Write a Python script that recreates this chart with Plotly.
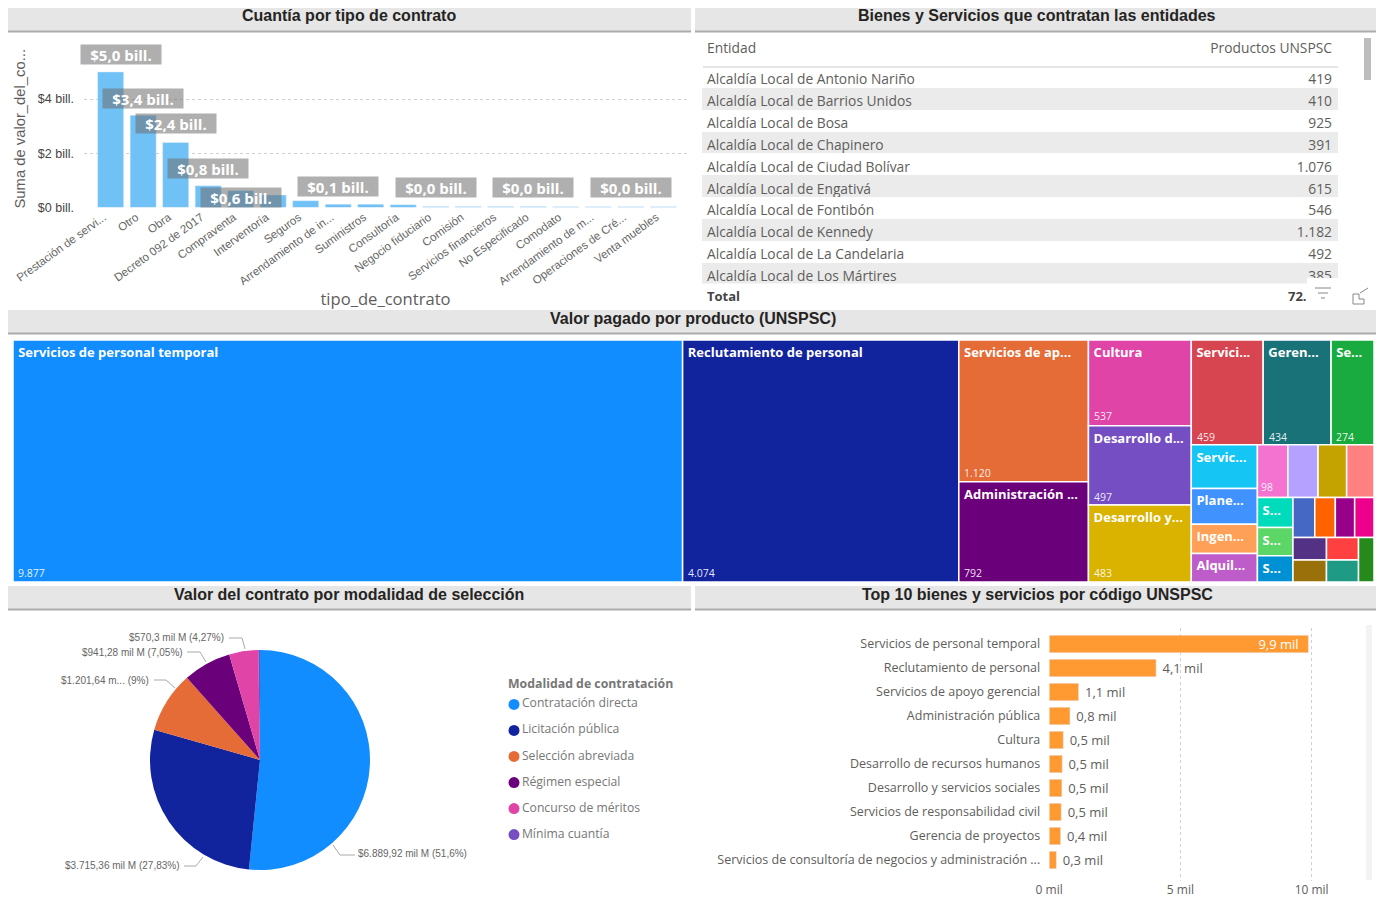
import plotly.graph_objects as go

W, H = 1377, 897
FONT = "Open Sans"
HEAD = "Liberation Sans"
GREY = "#605E5C"

# ---------- data ----------
contract_types = ["Prestación de servi...", "Otro", "Obra", "Decreto 092 de 2017", "Compraventa",
                  "Interventoría", "Seguros", "Arrendamiento de in...", "Suministros", "Consultoría",
                  "Negocio fiduciario", "Comisión", "Servicios financieros", "No Especificado",
                  "Comodato", "Arrendamiento de m...", "Operaciones de Cré...", "Venta muebles"]
contract_values = [5.0, 3.4, 2.4, 0.8, 0.62, 0.46, 0.25, 0.12, 0.12, 0.1,
                   0.04, 0.04, 0.04, 0.04, 0.03, 0.03, 0.03, 0.03]
labelled_contracts = [0, 1, 2, 3, 4, 7, 10, 13, 16]
label_yshift = [17, 17, 19, 17, -7, 18, 19, 19, 19]
label_xshift = [10, 0, 0, 0, 0, 0, 0, 0, 0]

entities = ["Alcaldía Local de Antonio Nariño", "Alcaldía Local de Barrios Unidos", "Alcaldía Local de Bosa",
            "Alcaldía Local de Chapinero", "Alcaldía Local de Ciudad Bolívar", "Alcaldía Local de Engativá",
            "Alcaldía Local de Fontibón", "Alcaldía Local de Kennedy", "Alcaldía Local de La Candelaria",
            "Alcaldía Local de Los Mártires"]
entity_products = ["419", "410", "925", "391", "1.076", "615", "546", "1.182", "492", "385"]

BLANK = "\u00a0"
tree_ids = ["a%02d" % i for i in range(30)]
tree_labels = ["Servicios de personal temporal", "Reclutamiento de personal", "Servicios de ap...",
               "Administración ...", "Cultura", "Desarrollo d...", "Desarrollo y...", "Servici...",
               "Geren...", "Se...", "Servic...", "Plane...", "Ingen...", "Alquil...",
               BLANK, BLANK, BLANK, BLANK, "S...", "S...", "S...", BLANK, BLANK, BLANK, BLANK, BLANK,
               BLANK, BLANK, BLANK, BLANK]
tree_values = [9877, 4074, 1120, 792, 537, 497, 483, 459, 434, 274, 176, 144, 118, 115,
               98, 97, 92, 88, 65, 61, 57, 53, 50, 47, 47, 46, 45, 44, 43, 42]
tree_colors = ["#118DFF", "#12239E", "#E66C37", "#6B007B", "#E044A7", "#744EC2", "#D9B300", "#D64550",
               "#197278", "#1AAB40", "#15C6F4", "#4092FF", "#FFA058", "#BE5DC9", "#F472D0", "#B5A1FF",
               "#C4A200", "#FF8080", "#00DBBC", "#5BD667", "#0091D5", "#4668C5", "#FF6300", "#99008A",
               "#EC008C", "#533285", "#99700A", "#FF4040", "#1F9A85", "#25891C"]
tree_value_labels = [("9.877", 18, 573), ("4.074", 688, 573), ("1.120", 964, 473), ("792", 964, 573),
                     ("537", 1094, 416), ("497", 1094, 497), ("483", 1094, 573), ("459", 1197, 437),
                     ("434", 1269, 437), ("274", 1336, 437), ("98", 1261, 487)]

modalities = ["Contratación directa", "Licitación pública", "Selección abreviada",
              "Régimen especial", "Concurso de méritos", "Mínima cuantía"]
modality_values = [6889.92, 3715.36, 1201.64, 941.28, 570.3, 33]
modality_colors = ["#118DFF", "#12239E", "#E66C37", "#6B007B", "#E044A7", "#744EC2"]
pie_labels = [("$6.889,92 mil M (51,6%)", 358, 853, [(333, 845), (340, 855), (355, 855)], "left"),
              ("$3.715,36 mil M (27,83%)", 180, 865, [(203, 857), (196, 866), (184, 866)], "right"),
              ("$1.201,64 m... (9%)", 149, 680, [(175, 688), (166, 680), (154, 680)], "right"),
              ("$941,28 mil M (7,05%)", 183, 652, [(206, 662), (200, 652), (187, 652)], "right"),
              ("$570,3 mil M (4,27%)", 224, 637, [(245, 649), (242, 638), (229, 638)], "right")]

products = ["Servicios de personal temporal", "Reclutamiento de personal", "Servicios de apoyo gerencial",
            "Administración pública", "Cultura", "Desarrollo de recursos humanos",
            "Desarrollo y servicios sociales", "Servicios de responsabilidad civil",
            "Gerencia de proyectos", "Servicios de consultoría de negocios y administración ..."]
product_values = [9877, 4074, 1120, 792, 537, 497, 483, 459, 434, 274]

titles = [("Cuantía por tipo de contrato", 349, 15), ("Bienes y Servicios que contratan las entidades", 1037, 15),
          ("Valor pagado por producto (UNSPSC)", 693, 318), ("Valor del contrato por modalidad de selección", 349, 594),
          ("Top 10 bienes y servicios por código UNSPSC", 1037, 594)]
bands = [(8, 8, 691, 31), (695, 8, 1376, 31), (8, 310, 1376, 333), (8, 586, 691, 609), (695, 586, 1376, 609)]


# ---------- pixel helpers for page layout ----------
def px(x):
    return x / W


def py(y):
    return 1 - y / H


def dx(a, b):
    return [px(a), px(b)]


def dy(top, bottom):
    return [py(bottom), py(top)]


def rect(x0, y0, x1, y1, fill, line=None, layer="above"):
    return dict(type="rect", xref="paper", yref="paper", x0=px(x0), x1=px(x1), y0=py(y0), y1=py(y1),
                fillcolor=fill, line=dict(width=0 if line is None else 1, color=line or fill), layer=layer)


def seg(x0, y0, x1, y1, color="#BBBBBB", width=1):
    return dict(type="line", xref="paper", yref="paper", x0=px(x0), x1=px(x1), y0=py(y0), y1=py(y1),
                line=dict(color=color, width=width), layer="above")


def note(text, x, y, size=11, color=GREY, anchor="left", family=FONT, weight=None):
    nudge = {"left": -2, "right": 2}.get(anchor, 0)
    font = dict(size=size, color=color, family=family)
    if weight:
        font["weight"] = weight
    return dict(text=text, x=px(x + nudge), y=py(y), xref="paper", yref="paper", showarrow=False, xanchor=anchor,
                yanchor="middle", font=font)


fig = go.Figure()

# bar chart: contract types
fig.add_trace(go.Bar(x=contract_types, y=contract_values, marker_color="#6FC1F6", xaxis="x", yaxis="y", width=0.8))

# table
fig.add_trace(go.Table(domain=dict(x=dx(699, 1341), y=dy(34.5, 284)),
                       columnwidth=[500, 142],
                       header=dict(values=["Entidad", "Productos UNSPSC"], align=["left", "right"], height=31.5,
                                   fill_color="white", line_color="white",
                                   font=dict(size=13.8, color=GREY, family=FONT)),
                       cells=dict(values=[entities, entity_products], align=["left", "right"], height=21.85,
                                  fill_color=[["white" if i % 2 == 0 else "#EBEBEB" for i in range(len(entities))]],
                                  line_color="rgba(0,0,0,0)",
                                  font=dict(size=13.8, color=GREY, family=FONT))))

# treemap
fig.add_trace(go.Treemap(ids=tree_ids, labels=tree_labels, parents=[""] * len(tree_ids), values=tree_values,
                         branchvalues="remainder", sort=True,
                         domain=dict(x=dx(13, 1374), y=dy(340, 582)),
                         marker=dict(colors=tree_colors, line=dict(color="white", width=1.5),
                                     pad=dict(t=0, l=0, r=0, b=0)),
                         tiling=dict(pad=0, squarifyratio=1.618), pathbar=dict(visible=False),
                         textposition="top left", texttemplate="<b>\u2009%{label}</b>",
                         textfont=dict(size=13, color="white", family=FONT)))

# pie
fig.add_trace(go.Pie(labels=modalities, values=modality_values, sort=False, direction="clockwise", rotation=0,
                     marker=dict(colors=modality_colors), textinfo="none", showlegend=False,
                     domain=dict(x=dx(150, 370), y=dy(650, 870))))

# legend of the pie
fig.add_trace(go.Scatter(x=[0] * len(modalities), y=list(range(len(modalities))), mode="markers+text",
                         text=modalities, textposition="middle right", xaxis="x3", yaxis="y3",
                         marker=dict(size=11, color=modality_colors),
                         textfont=dict(size=12.2, color="#777777", family=FONT), cliponaxis=False))

# top-10 bars
bar_text = [f"{v / 1000:.1f} mil".replace(".", ",") for v in product_values]
bar_text = [bar_text[0] + "\u00a0\u00a0"] + ["\u00a0" + t for t in bar_text[1:]]
fig.add_trace(go.Bar(y=products, x=product_values, orientation="h", marker_color="#FF9A33", xaxis="x2", yaxis="y2",
                     width=0.73, cliponaxis=False, constraintext="none",
                     text=bar_text,
                     textposition=["inside"] + ["outside"] * 9, insidetextanchor="end",
                     insidetextfont=dict(color="white", size=13, family=FONT),
                     outsidetextfont=dict(color=GREY, size=13, family=FONT)))

shapes = []
for b in bands:
    shapes.append(rect(b[0], b[1], b[2], b[3], "#E6E6E6"))
    shapes.append(rect(b[0], b[3] - 0.5, b[2], b[3] + 1.5, "#ABABAB"))

# table furniture
shapes += [rect(697, 34, 702, 285, "white"), rect(1338, 34, 1343, 285, "white"),
           seg(703, 67, 1338, 67, "#DDDDDD", 1.5),
           rect(1307, 278, 1338, 302, "white"),
           rect(1364, 38, 1371, 80, "#BDBDBD"),
           seg(1315, 288, 1331, 288, "#888888"), seg(1318, 293, 1328, 293, "#888888"),
           seg(1321, 298, 1325, 298, "#888888"),
           seg(1353, 294, 1353, 304, "#888888"), seg(1353, 304, 1364, 304, "#888888"),
           seg(1353, 294, 1359, 294, "#888888"), seg(1359, 294, 1359, 299, "#888888"),
           seg(1359, 299, 1364, 299, "#888888"), seg(1364, 299, 1364, 304, "#888888"),
           seg(1360, 293, 1368, 288, "#888888"),
           rect(1366, 625, 1372, 880, "#F3F3F3"),
           ]

annotations = []
for t, x, y in titles:
    annotations.append(note(t, x, y + 0.5, size=16, color="#252423", anchor="center", family=HEAD, weight=600))

annotations += [note("Total", 707, 296, size=13, color="#444444", weight=700),
                note("72.", 1307, 296, size=13, color="#444444", anchor="right", weight=700),
                note("Modalidad de contratación", 508, 683, size=12.3, color="#777777", weight=700)]

for t, x, y in tree_value_labels:
    annotations.append(note(t, x, y, size=10.5, color="rgba(255,255,255,0.9)"))

for t, x, y, pts, side in pie_labels:
    annotations.append(note(t, x, y, size=10, color="#666666", anchor=side, family=HEAD))
    for (a, b), (c, d) in zip(pts, pts[1:]):
        shapes.append(seg(a, b, c, d, "#AAAAAA"))

for i, ys, xs in zip(labelled_contracts, label_yshift, label_xshift):
    annotations.append(dict(x=contract_types[i], y=contract_values[i], xref="x", yref="y",
                            text="<b>" + f"${contract_values[i]:.1f} bill.".replace(".", ",", 1) + "</b>",
                            showarrow=False, yshift=ys, xshift=xs, width=78, height=17, borderpad=1,
                            bgcolor="rgba(110,110,110,0.55)", font=dict(size=15, color="white", family=FONT)))

grid = dict(showgrid=True, griddash="dot", gridcolor="#CFCFCF", gridwidth=1, zeroline=False, showline=False)

fig.update_layout(
    width=W, height=H, autosize=False, margin=dict(l=0, r=0, t=0, b=0, pad=0),
    paper_bgcolor="white", plot_bgcolor="white", showlegend=False, bargap=0.2,
    font=dict(family=FONT, color=GREY),
    xaxis=dict(domain=dx(84, 687), range=[-0.82, 17.73], type="category", showgrid=False, zeroline=False,
               tickangle=-36, tickfont=dict(size=11.5, color="#666666", family=HEAD), ticks="", automargin=False,
               ticklabelshift=-7,
               title=dict(text="tipo_de_contrato", standoff=2, font=dict(size=16.6, color=GREY, family=FONT))),
    yaxis=dict(domain=dy(50, 207.5), range=[0, 5.81], tickvals=[0, 2, 4], ticktext=["$0 bill.", "$2 bill.", "$4 bill."],
               tickfont=dict(size=12.5, color="#444444", family=HEAD), ticklabelstandoff=9, automargin=False,
               title=dict(text="Suma de valor_del_co...", standoff=8, font=dict(size=14.8, color=GREY, family=HEAD)),
               **grid),
    xaxis2=dict(domain=dx(1049.2, 1330), range=[0, 10700], tickvals=[0, 5000, 10000],
                ticktext=["0 mil", "5 mil", "10 mil"], anchor="y2", ticklabelstandoff=0,
                tickfont=dict(size=12, color=GREY, family=FONT), automargin=False, **grid),
    yaxis2=dict(domain=dy(628, 881), range=[9.875, -0.667], type="category", anchor="x2", showgrid=False,
                zeroline=False, ticks="", ticklabelstandoff=8, automargin=False,
                tickfont=dict(size=12.5, color=GREY, family=FONT)),
    xaxis3=dict(domain=dx(508, 690), range=[-6, 176], visible=False, fixedrange=True),
    yaxis3=dict(domain=dy(694, 845), range=[5.4, -0.4], visible=False, anchor="x3", fixedrange=True),
    shapes=shapes, annotations=annotations,
)

fig.write_html("out.html", config=dict(displayModeBar=False),
               post_script="document.body.style.margin='0';document.body.style.overflow='hidden';")
